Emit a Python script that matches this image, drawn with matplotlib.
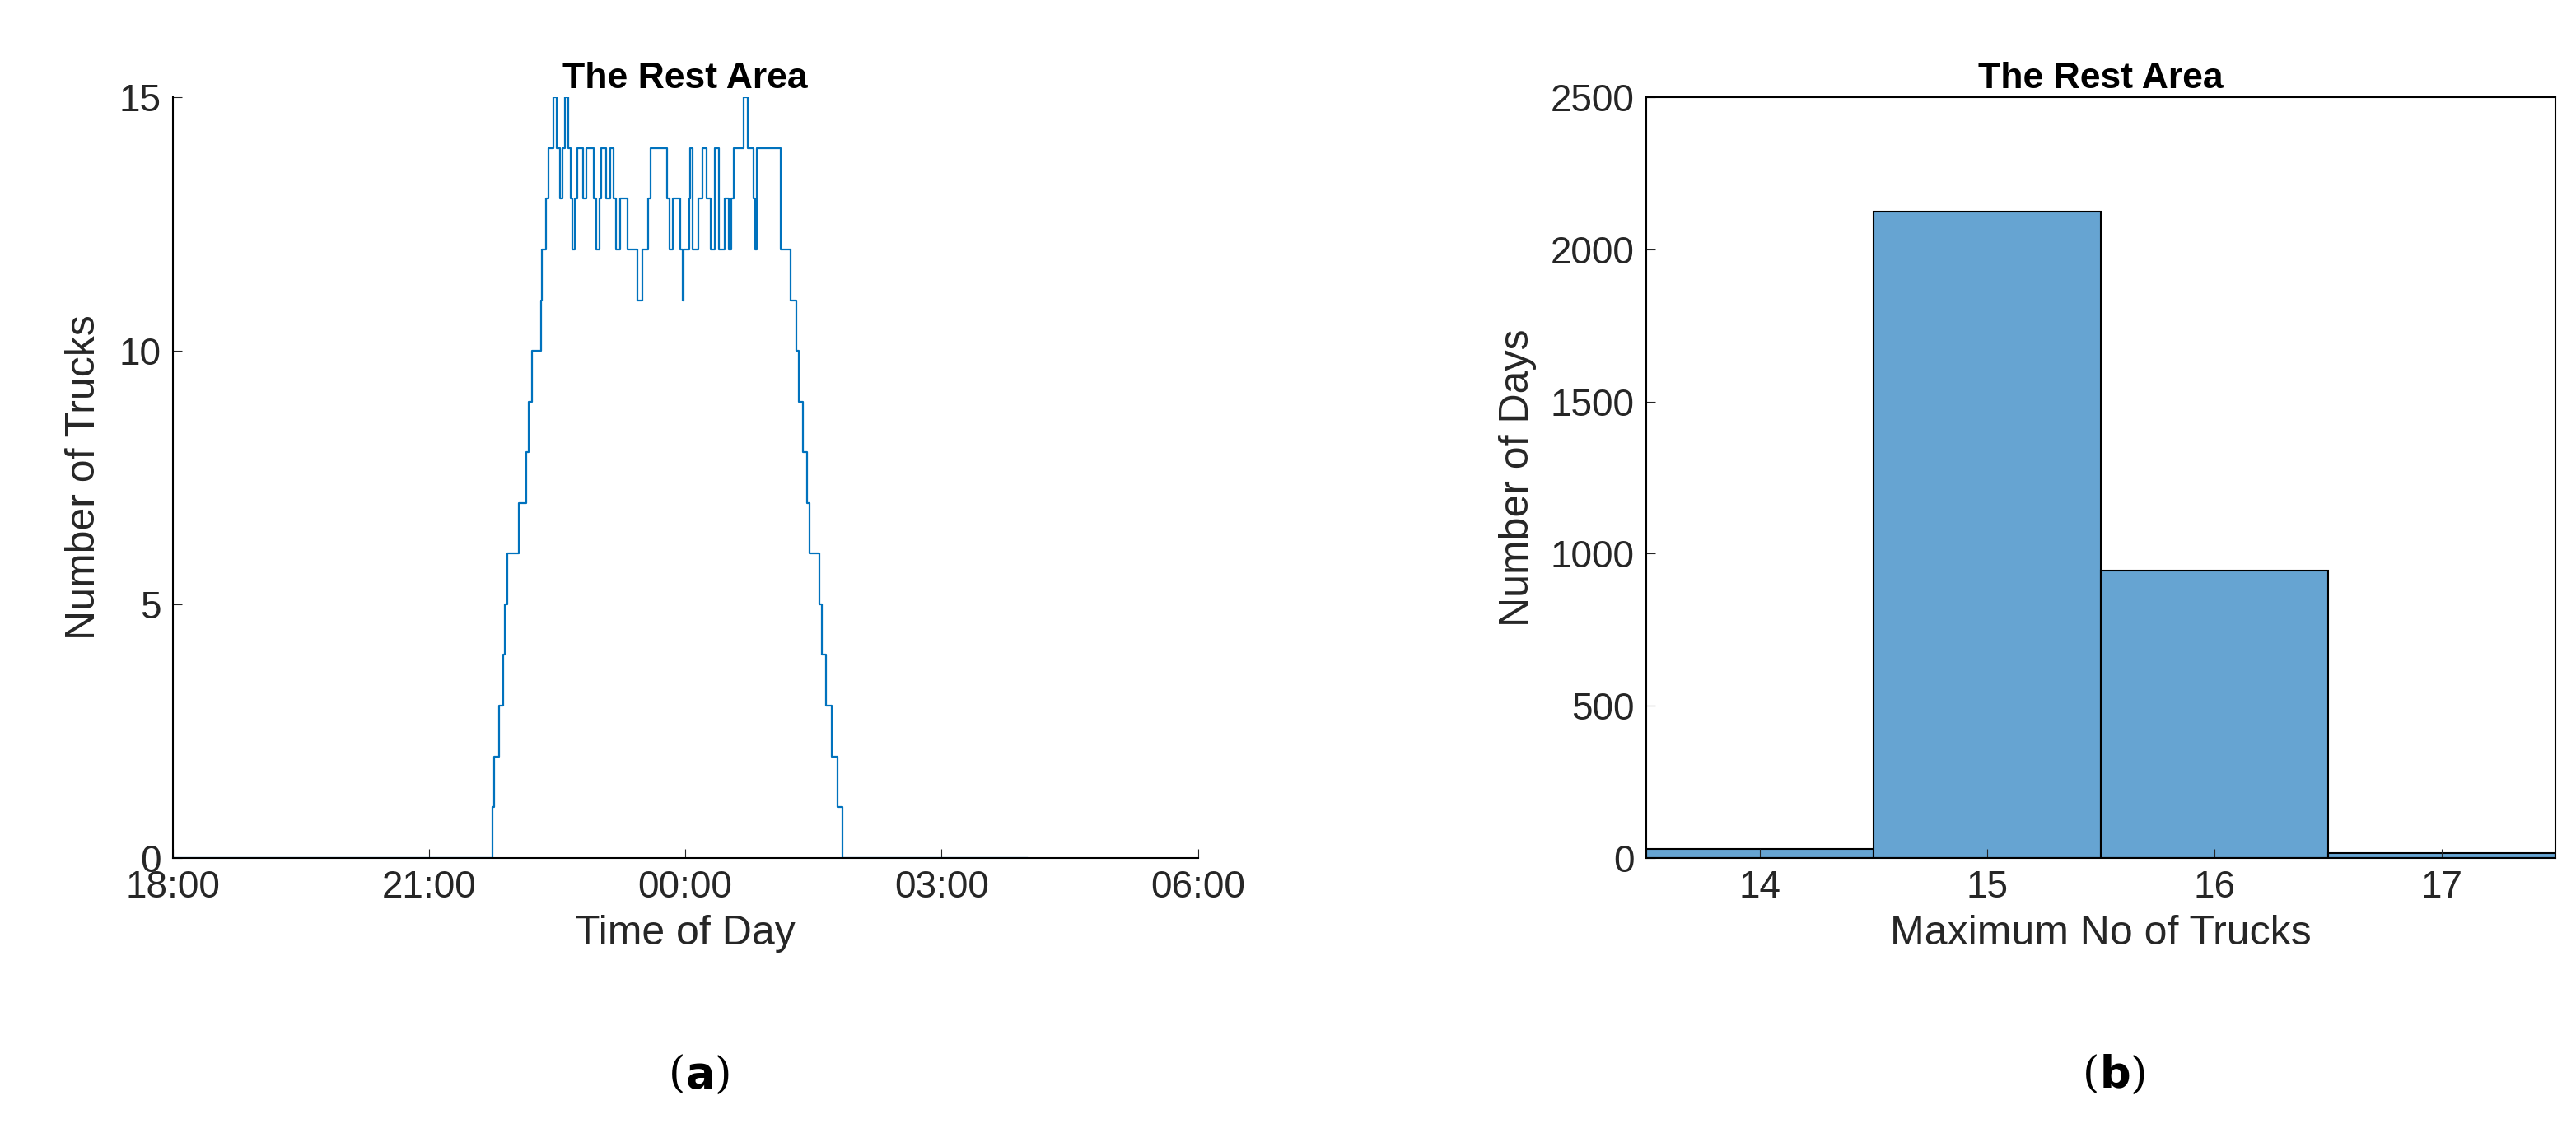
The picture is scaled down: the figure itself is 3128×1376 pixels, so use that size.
import matplotlib
matplotlib.use("Agg")
import matplotlib.pyplot as plt

plt.rcParams['font.family'] = ['Liberation Sans', 'DejaVu Sans']

# Change points of the truck count (hours after 18:00, level)
change_hours = [0.0, 3.745, 3.767, 3.825, 3.873, 3.889, 3.922, 4.050, 4.140, 4.172, 4.211, 4.314, 4.327,
                4.372, 4.404, 4.462, 4.500, 4.532, 4.564, 4.590, 4.635, 4.661, 4.677, 4.709, 4.741,
                4.805, 4.847, 4.934, 4.956, 4.998, 5.014, 5.079, 5.127, 5.159, 5.191, 5.239, 5.320,
                5.439, 5.496, 5.561, 5.593, 5.786, 5.818, 5.857, 5.946, 5.972, 5.985, 6.043, 6.059,
                6.091, 6.155, 6.204, 6.252, 6.300, 6.348, 6.396, 6.460, 6.509, 6.541, 6.573, 6.686,
                6.734, 6.798, 6.820, 6.840, 7.120, 7.232, 7.296, 7.328, 7.377, 7.425, 7.451, 7.570,
                7.602, 7.650, 7.714, 7.778, 7.843]
change_levels = [0, 1, 2, 3, 4, 5, 6, 7, 8, 9, 10, 11, 12,
                 13, 14, 15, 14, 13, 14, 15, 14, 13, 12, 13, 14,
                 13, 14, 13, 12, 13, 14, 13, 14, 13, 12, 13, 12,
                 11, 12, 13, 14, 13, 12, 13, 12, 11, 12, 13, 14,
                 12, 13, 14, 13, 12, 14, 12, 13, 12, 13, 14, 15,
                 14, 13, 12, 14, 12, 11, 10, 9, 8, 7, 6, 5,
                 4, 3, 2, 1, 0]
end_hour = 10.0

hist_bins = [14, 15, 16, 17]
hist_counts = [30, 2125, 945, 15]

xtick_hours = [0, 3, 6, 9, 12]
xtick_labels = ["18:00", "21:00", "00:00", "03:00", "06:00"]

xs = list(change_hours) + [end_hour]
ys = list(change_levels) + [change_levels[-1]]

fig = plt.figure(figsize=(31.28, 13.76), dpi=100)
ax1 = fig.add_axes([0.067, 0.243, 0.398, 0.671])
ax2 = fig.add_axes([0.639, 0.243, 0.353, 0.671])

blue = "#0072BD"
ax1.step(xs, ys, where="post", color=blue, lw=1.6)
ax1.set_xlim(0, 12)
ax1.set_ylim(0, 15)
ax1.set_xticks(xtick_hours)
ax1.set_xticklabels(xtick_labels)
ax1.set_yticks([0, 5, 10, 15])
ax1.set_xlabel("Time of Day", fontsize=36, color="#262626", labelpad=8)
ax1.set_ylabel("Number of Trucks", fontsize=36, color="#262626", labelpad=14)
ax1.set_title("The Rest Area", fontsize=32, fontweight="bold", pad=8)
ax1.spines["top"].set_visible(False)
ax1.spines["right"].set_visible(False)

ax2.bar(hist_bins, hist_counts, width=1.0, color="#66A4D2", edgecolor="black", lw=1.5)
ax2.set_xlim(13.5, 17.5)
ax2.set_ylim(0, 2500)
ax2.set_xticks(hist_bins)
ax2.set_yticks(range(0, 2501, 500))
ax2.set_xlabel("Maximum No of Trucks", fontsize=36, color="#262626", labelpad=8)
ax2.set_ylabel("Number of Days", fontsize=36, color="#262626", labelpad=12)
ax2.set_title("The Rest Area", fontsize=32, fontweight="bold", pad=8)

for ax in (ax1, ax2):
    ax.tick_params(labelsize=33, direction="in", length=8, colors="#262626", pad=10)
    for s in ax.spines.values():
        s.set_linewidth(1.5)

fig.text(0.266, 0.04, "(", fontsize=38, family="DejaVu Serif", ha="right")
fig.text(0.266, 0.04, r"$\mathbf{a}$)", fontsize=38, family="DejaVu Serif", ha="left")
fig.text(0.815, 0.04, "(", fontsize=38, family="DejaVu Serif", ha="right")
fig.text(0.815, 0.04, r"$\mathbf{b}$)", fontsize=38, family="DejaVu Serif", ha="left")

fig.savefig("out.png", dpi=100)
